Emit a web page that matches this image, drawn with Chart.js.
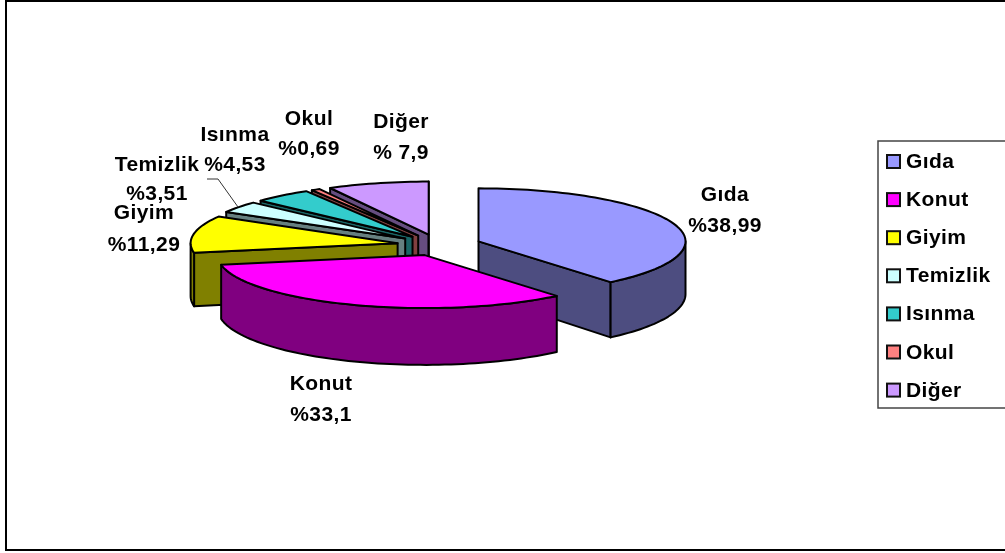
<!DOCTYPE html>
<html>
<head>
<meta charset="UTF-8">
<title>Harcama dağılımı</title>
<script src="https://cdn.jsdelivr.net/npm/chart.js@4"></script>
<style>
    html, body { margin: 0; padding: 0; background: #fff; overflow: hidden; }
    canvas { display: block; }
</style>
</head>
<body>
<canvas id="pie" width="1005" height="553"></canvas>
<script>
// values
const categories = ['Gıda', 'Konut', 'Giyim', 'Temizlik', 'Isınma', 'Okul', 'Diğer'];
const shares = [38.99, 33.1, 11.29, 3.51, 4.53, 0.69, 7.9];
const shareLabels = ['%38,99', '%33,1', '%11,29', '%3,51', '%4,53', '%0,69', '% 7,9'];

const topColors = ['#9999FF', '#FF00FF', '#FFFF00', '#CCFFFF', '#33CCCC', '#FF8080', '#CC99FF'];
const wallColors = ['#4D4D80', '#800080', '#808000', '#668080', '#1A6666', '#804040', '#664D80'];

// where the two text lines of each label sit: [centre x, first baseline, second baseline]
const labelSpots = [
    [725, 201, 232], [321, 390, 421], [144, 219, 251], [157, 171, 200],
    [235, 141, 171], [309, 125, 155], [401, 128, 159]
];
const drawOrder = [6, 5, 4, 3, 2, 0, 1];
const TILT = 0.256;
const LABEL_FONT = 'bold 21px "Liberation Sans", Arial, sans-serif';

function wallDepth(dy) {
    return 53 + 0.06 * dy;
}

const pie3d = {
    id: 'pie3d',
    beforeDatasetsDraw(chart) {
        const ctx = chart.ctx;
        const arcs = chart.getDatasetMeta(0).data;
        ctx.save();
        ctx.lineWidth = 2;
        ctx.lineJoin = 'round';
        ctx.strokeStyle = '#000';
        drawOrder.forEach(i => drawSlice(ctx, arcs[i], i));
        ctx.restore();
        return false;
    },
    afterDraw(chart) {
        const ctx = chart.ctx;
        ctx.save();
        // outer frame, runs off the right side
        ctx.strokeStyle = '#000';
        ctx.lineWidth = 2;
        ctx.strokeRect(6, 1, 1020, 549);
        // leader line of Temizlik
        ctx.lineWidth = 1;
        ctx.strokeStyle = '#333';
        ctx.beginPath();
        ctx.moveTo(207, 179);
        ctx.lineTo(218, 179);
        ctx.lineTo(238, 207);
        ctx.stroke();

        ctx.fillStyle = '#000';
        ctx.font = LABEL_FONT;
        ctx.letterSpacing = '0.4px';
        ctx.textAlign = 'center';
        categories.forEach((name, i) => {
            const [x, y1, y2] = labelSpots[i];
            ctx.fillText(name, x, y1);
            ctx.fillText(shareLabels[i], x, y2);
        });

        // legend box, also cut by the window edge
        ctx.strokeStyle = '#444';
        ctx.lineWidth = 1.5;
        ctx.fillStyle = '#fff';
        ctx.fillRect(878, 141, 140, 267);
        ctx.strokeRect(878, 141, 140, 267);
        ctx.textAlign = 'left';
        ctx.lineWidth = 2;
        categories.forEach((name, i) => {
            const top = 155 + i * 38.1;
            ctx.fillStyle = topColors[i];
            ctx.strokeStyle = '#111';
            ctx.fillRect(887, top, 13, 13);
            ctx.strokeRect(887, top, 13, 13);
            ctx.fillStyle = '#000';
            ctx.fillText(name, 906, top + 13);
        });
        ctx.restore();
    }
};

function drawSlice(ctx, arc, i) {
    const p = arc.getProps(['x', 'y', 'startAngle', 'endAngle', 'outerRadius'], true);
    const mid = (p.startAngle + p.endAngle) / 2;
    const off = arc.options.offset;
    const ax = p.x + Math.cos(mid) * off;
    const ay = p.y + Math.sin(mid) * off;
    const r = p.outerRadius;
    const flat = (x, y) => [x, p.y + (y - p.y) * TILT];
    const low = ([x, y]) => [x, y + wallDepth(y - p.y)];
    const rim = a => flat(ax + Math.cos(a) * r, ay + Math.sin(a) * r);
    const apex = flat(ax, ay);

    const shape = pts => {
        ctx.beginPath();
        pts.forEach((q, n) => n ? ctx.lineTo(q[0], q[1]) : ctx.moveTo(q[0], q[1]));
        ctx.closePath();
        ctx.fill();
        ctx.stroke();
    };
    const sweep = (from, to) => {
        const pts = [];
        const n = Math.max(2, Math.ceil((to - from) / 0.03));
        for (let k = 0; k <= n; k++) pts.push(rim(from + (to - from) * k / n));
        return pts;
    };

    ctx.fillStyle = wallColors[i];
    // the flat cut sides, only when they face us
    if (Math.cos(p.startAngle) < 0) {
        const e = rim(p.startAngle);
        shape([apex, e, low(e), low(apex)]);
    }
    if (Math.cos(p.endAngle) >= -1e-6) {
        const e = rim(p.endAngle);
        shape([apex, e, low(e), low(apex)]);
    }
    // the round side, front half of the ellipse
    const from = Math.max(p.startAngle, 0);
    const to = Math.min(p.endAngle, Math.PI);
    if (to > from) {
        const edge = sweep(from, to);
        shape(edge.concat(edge.map(low).reverse()));
    }
    // top face
    ctx.fillStyle = topColors[i];
    shape([apex].concat(sweep(p.startAngle, p.endAngle)));
}

new Chart(document.getElementById('pie'), {
    type: 'pie',
    data: {
        labels: categories,
        datasets: [{
            data: shares,
            backgroundColor: topColors,
            borderColor: '#000',
            offset: 42,
            radius: 207
        }]
    },
    options: {
        responsive: false,
        animation: false,
        layout: { padding: { left: 0, right: 127, top: 0, bottom: 63 } },
        plugins: { legend: { display: false }, tooltip: { enabled: false } }
    },
    plugins: [pie3d]
});
</script>
</body>
</html>
